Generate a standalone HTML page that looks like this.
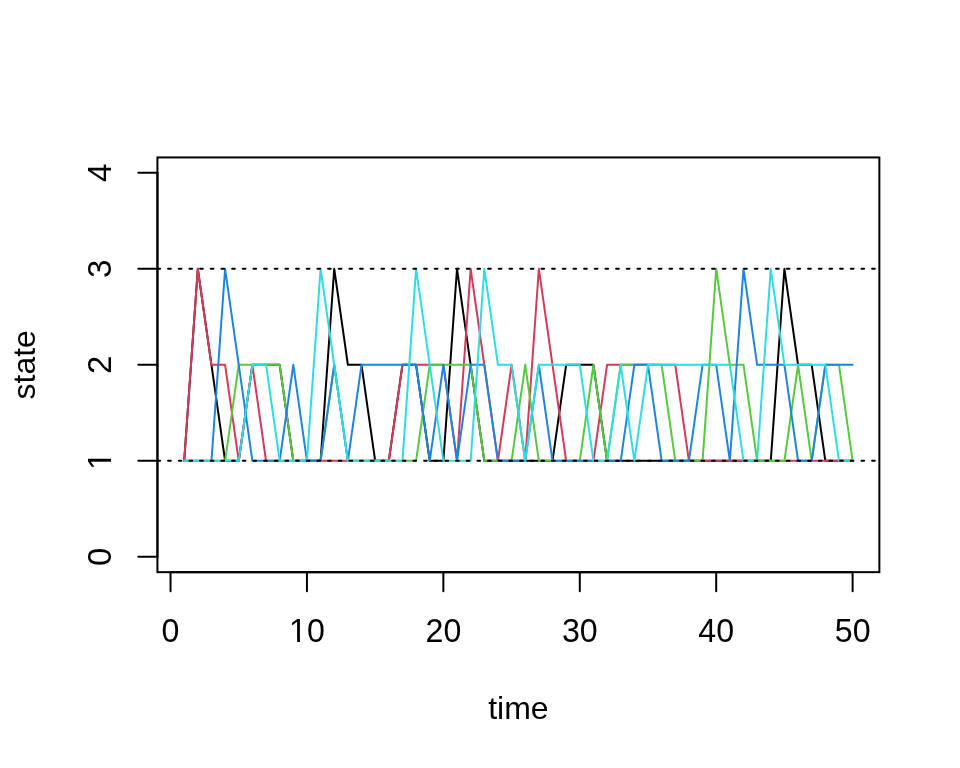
<!DOCTYPE html>
<html><head><meta charset="utf-8"><style>
html,body{margin:0;padding:0;background:#fff;}
body{position:relative;width:960px;height:768px;overflow:hidden;}
svg{display:block;position:absolute;left:0;top:0;}
.t{will-change:transform;}
text{font-family:"Liberation Sans",sans-serif;font-size:33px;fill:#000;}
</style></head><body>
<svg width="960" height="768" viewBox="0 0 960 768">
<rect x="157.44" y="157.44" width="721.92" height="414.72" fill="none" stroke="#000" stroke-width="2"/>
<line x1="170.54" y1="572.16" x2="170.54" y2="591.36" stroke="#000" stroke-width="2" stroke-linecap="round"/>
<line x1="306.95" y1="572.16" x2="306.95" y2="591.36" stroke="#000" stroke-width="2" stroke-linecap="round"/>
<line x1="443.37" y1="572.16" x2="443.37" y2="591.36" stroke="#000" stroke-width="2" stroke-linecap="round"/>
<line x1="579.79" y1="572.16" x2="579.79" y2="591.36" stroke="#000" stroke-width="2" stroke-linecap="round"/>
<line x1="716.20" y1="572.16" x2="716.20" y2="591.36" stroke="#000" stroke-width="2" stroke-linecap="round"/>
<line x1="852.62" y1="572.16" x2="852.62" y2="591.36" stroke="#000" stroke-width="2" stroke-linecap="round"/>
<line x1="170.54" y1="572.16" x2="852.62" y2="572.16" stroke="#000" stroke-width="2"/>
<line x1="157.44" y1="556.80" x2="138.24" y2="556.80" stroke="#000" stroke-width="2" stroke-linecap="round"/>
<line x1="157.44" y1="460.80" x2="138.24" y2="460.80" stroke="#000" stroke-width="2" stroke-linecap="round"/>
<line x1="157.44" y1="364.80" x2="138.24" y2="364.80" stroke="#000" stroke-width="2" stroke-linecap="round"/>
<line x1="157.44" y1="268.80" x2="138.24" y2="268.80" stroke="#000" stroke-width="2" stroke-linecap="round"/>
<line x1="157.44" y1="172.80" x2="138.24" y2="172.80" stroke="#000" stroke-width="2" stroke-linecap="round"/>
<line x1="157.44" y1="556.80" x2="157.44" y2="172.80" stroke="#000" stroke-width="2"/>
<polyline points="184.18,460.80 197.82,268.80 211.46,364.80 225.10,460.80 238.74,460.80 252.39,364.80 266.03,364.80 279.67,364.80 293.31,460.80 306.95,460.80 320.60,460.80 334.24,268.80 347.88,364.80 361.52,364.80 375.16,460.80 388.80,460.80 402.45,364.80 416.09,364.80 429.73,460.80 443.37,460.80 457.01,268.80 470.65,364.80 484.30,460.80 497.94,460.80 511.58,460.80 525.22,460.80 538.86,460.80 552.50,460.80 566.15,364.80 579.79,364.80 593.43,364.80 607.07,460.80 620.71,460.80 634.35,460.80 648.00,460.80 661.64,460.80 675.28,460.80 688.92,460.80 702.56,460.80 716.20,460.80 729.85,460.80 743.49,460.80 757.13,460.80 770.77,460.80 784.41,268.80 798.06,364.80 811.70,364.80 825.34,460.80 838.98,460.80 852.62,460.80" fill="none" stroke="#000000" stroke-width="2" stroke-linejoin="round" stroke-linecap="round"/>
<polyline points="184.18,460.80 197.82,268.80 211.46,364.80 225.10,364.80 238.74,460.80 252.39,364.80 266.03,460.80 279.67,460.80 293.31,460.80 306.95,460.80 320.60,460.80 334.24,460.80 347.88,460.80 361.52,460.80 375.16,460.80 388.80,460.80 402.45,364.80 416.09,364.80 429.73,364.80 443.37,364.80 457.01,460.80 470.65,268.80 484.30,364.80 497.94,460.80 511.58,364.80 525.22,460.80 538.86,268.80 552.50,364.80 566.15,460.80 579.79,460.80 593.43,460.80 607.07,364.80 620.71,364.80 634.35,364.80 648.00,364.80 661.64,364.80 675.28,364.80 688.92,460.80 702.56,460.80 716.20,460.80 729.85,460.80 743.49,460.80 757.13,460.80 770.77,460.80 784.41,460.80 798.06,460.80 811.70,460.80 825.34,460.80 838.98,460.80 852.62,460.80" fill="none" stroke="#D53A59" stroke-width="2" stroke-linejoin="round" stroke-linecap="round"/>
<polyline points="184.18,460.80 197.82,460.80 211.46,460.80 225.10,460.80 238.74,364.80 252.39,364.80 266.03,364.80 279.67,364.80 293.31,460.80 306.95,460.80 320.60,460.80 334.24,364.80 347.88,460.80 361.52,460.80 375.16,460.80 388.80,460.80 402.45,460.80 416.09,460.80 429.73,364.80 443.37,364.80 457.01,364.80 470.65,364.80 484.30,460.80 497.94,460.80 511.58,460.80 525.22,364.80 538.86,460.80 552.50,460.80 566.15,460.80 579.79,460.80 593.43,364.80 607.07,460.80 620.71,364.80 634.35,364.80 648.00,364.80 661.64,364.80 675.28,460.80 688.92,460.80 702.56,460.80 716.20,268.80 729.85,364.80 743.49,364.80 757.13,460.80 770.77,460.80 784.41,460.80 798.06,364.80 811.70,460.80 825.34,364.80 838.98,364.80 852.62,460.80" fill="none" stroke="#55C93F" stroke-width="2" stroke-linejoin="round" stroke-linecap="round"/>
<polyline points="184.18,460.80 197.82,460.80 211.46,460.80 225.10,268.80 238.74,364.80 252.39,460.80 266.03,460.80 279.67,460.80 293.31,364.80 306.95,460.80 320.60,460.80 334.24,364.80 347.88,460.80 361.52,364.80 375.16,364.80 388.80,364.80 402.45,364.80 416.09,364.80 429.73,460.80 443.37,364.80 457.01,460.80 470.65,364.80 484.30,364.80 497.94,460.80 511.58,460.80 525.22,460.80 538.86,364.80 552.50,460.80 566.15,460.80 579.79,460.80 593.43,460.80 607.07,460.80 620.71,460.80 634.35,364.80 648.00,364.80 661.64,460.80 675.28,460.80 688.92,460.80 702.56,364.80 716.20,364.80 729.85,460.80 743.49,268.80 757.13,364.80 770.77,364.80 784.41,364.80 798.06,460.80 811.70,460.80 825.34,364.80 838.98,364.80 852.62,364.80" fill="none" stroke="#1F83E0" stroke-width="2" stroke-linejoin="round" stroke-linecap="round"/>
<polyline points="184.18,460.80 197.82,460.80 211.46,460.80 225.10,460.80 238.74,460.80 252.39,364.80 266.03,364.80 279.67,460.80 293.31,460.80 306.95,460.80 320.60,268.80 334.24,364.80 347.88,460.80 361.52,460.80 375.16,460.80 388.80,460.80 402.45,460.80 416.09,268.80 429.73,364.80 443.37,460.80 457.01,460.80 470.65,460.80 484.30,268.80 497.94,364.80 511.58,364.80 525.22,460.80 538.86,364.80 552.50,364.80 566.15,364.80 579.79,364.80 593.43,460.80 607.07,460.80 620.71,364.80 634.35,460.80 648.00,364.80 661.64,364.80 675.28,364.80 688.92,364.80 702.56,364.80 716.20,364.80 729.85,364.80 743.49,460.80 757.13,460.80 770.77,268.80 784.41,364.80 798.06,364.80 811.70,364.80 825.34,364.80 838.98,460.80 852.62,460.80" fill="none" stroke="#2CDDE1" stroke-width="2" stroke-linejoin="round" stroke-linecap="round"/>
<line x1="157.44" y1="460.80" x2="879.36" y2="460.80" stroke="#000" stroke-width="2" stroke-dasharray="2.667 8" stroke-linecap="round"/>
<line x1="157.44" y1="268.80" x2="879.36" y2="268.80" stroke="#000" stroke-width="2" stroke-dasharray="2.667 8" stroke-linecap="round"/>
</svg>
<svg class="t" width="960" height="768" viewBox="0 0 960 768">
<defs><clipPath id="c10" clipPathUnits="userSpaceOnUse"><path clip-rule="evenodd" d="M-2000,-2000H2000V2000H-2000ZM-17.34,-3.47H-10.05V1.5H-17.34ZM-7.14,-3.47H-0.11V1.5H-7.14Z"/></clipPath><clipPath id="cy1" clipPathUnits="userSpaceOnUse"><path clip-rule="evenodd" d="M-2000,-2000H2000V2000H-2000ZM-8.16,-3.47H-0.88V1.5H-8.16ZM2.04,-3.47H9.07V1.5H2.04Z"/></clipPath></defs>
<text transform="translate(170.54 642.0) scale(0.975 1.025)" x="-9.18">0</text>
<text transform="translate(306.95 642.0) scale(0.975 1.025)" x="-18.35" clip-path="url(#c10)">10</text>
<text transform="translate(443.37 642.0) scale(0.975 1.025)" x="-18.35">20</text>
<text transform="translate(579.79 642.0) scale(0.975 1.025)" x="-18.35">30</text>
<text transform="translate(716.20 642.0) scale(0.975 1.025)" x="-18.35">40</text>
<text transform="translate(852.62 642.0) scale(0.975 1.025)" x="-18.35">50</text>
<text transform="translate(110.9 556.80) rotate(-90)" x="-9.18">0</text>
<text transform="translate(110.9 460.80) rotate(-90)" x="-9.18" clip-path="url(#cy1)">1</text>
<text transform="translate(110.9 364.80) rotate(-90)" x="-9.18">2</text>
<text transform="translate(110.9 268.80) rotate(-90)" x="-9.18">3</text>
<text transform="translate(110.9 172.80) rotate(-90)" x="-9.18">4</text>
<text transform="translate(35.4 364.8) rotate(-90)" text-anchor="middle" style="font-size:32px">state</text>
<text x="518.4" y="719.1" text-anchor="middle" style="font-size:32px">time</text>
</svg>
</body></html>
